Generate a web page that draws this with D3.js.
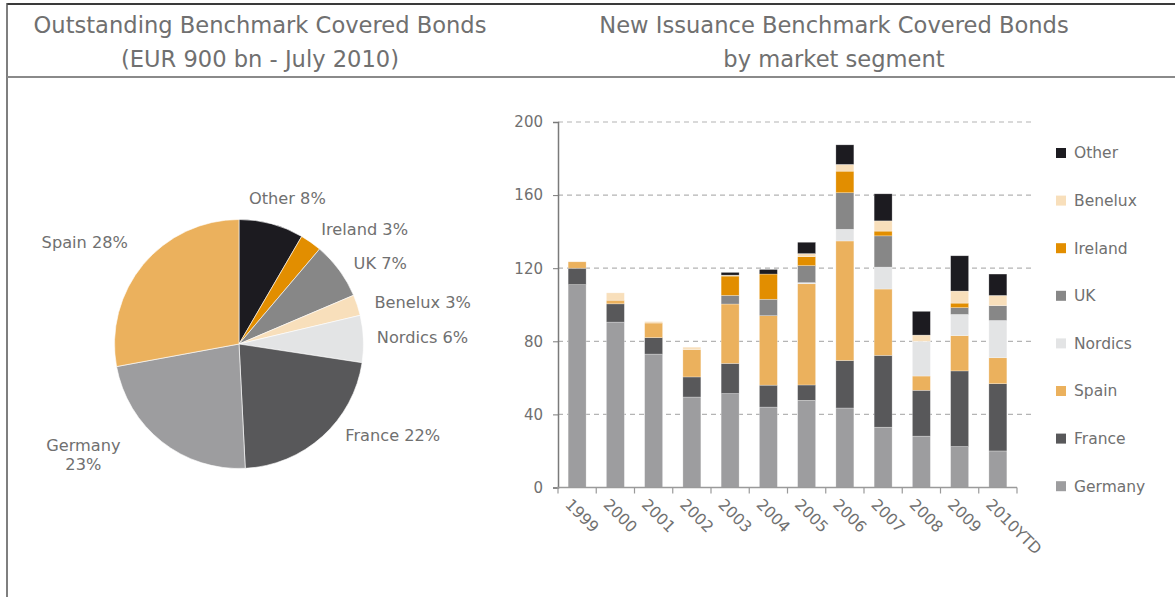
<!DOCTYPE html>
<html><head><meta charset="utf-8">
<script src="https://cdn.jsdelivr.net/npm/d3@7"></script>
<style>
html,body{margin:0;padding:0;background:#fff;}
svg{display:block;font-family:"DejaVu Sans",Verdana,sans-serif;}
</style></head>
<body>
<svg id="c" width="1175" height="597"></svg>
<script>
// ---------- data ----------
const pieLabels = ["Other","Ireland","UK","Benelux","Nordics","France","Germany","Spain"];
const pieValues = [8.4, 2.8, 7.4, 2.7, 6.1, 21.8, 22.9, 27.9];

const years = ["1999","2000","2001","2002","2003","2004","2005","2006","2007","2008","2009","2010YTD"];
const seriesNames = ["Germany","France","Spain","Nordics","UK","Ireland","Benelux","Other"];
const germany = [111, 90.5, 73, 49.5, 51.4, 44, 47.7, 43.5, 33, 28.1, 22.4, 20];
const france  = [9, 10, 9, 11, 16.5, 12, 8.4, 26, 39.3, 25.1, 41.4, 36.8];
const spain   = [3.5, 2, 8, 15, 32.5, 38, 55.4, 65.4, 36.3, 7.8, 19.3, 14.2];
const nordics = [0, 0, 0, 0, 0, 0, 0.6, 6.4, 12, 19, 11.6, 20.4];
const uk      = [0, 0, 0, 0, 4.7, 9, 9.3, 20, 17.1, 0, 3.7, 8.1];
const ireland = [0, 0, 0, 0, 10.6, 13.8, 4.9, 11.8, 2.6, 0, 2.5, 0];
const benelux = [0, 4, 0.8, 1.3, 0.5, 0, 1.7, 3.7, 5.6, 3.4, 6.6, 5.6];
const other   = [0, 0, 0, 0, 1.5, 2.5, 6.2, 10.7, 14.8, 13, 19.3, 11.7];
const yTicks = [0, 40, 80, 120, 160, 200];

// ---------- styles ----------
const colors = {
  Other:"#1c1b20", Ireland:"#e28e00", UK:"#878787", Benelux:"#f8dfbb",
  Nordics:"#e3e4e5", Spain:"#ebb15d", France:"#58585a", Germany:"#9d9d9f"
};
const textColor = "#707070";

const svg = d3.select("#c");

// frame
svg.append("line").attr("x1",7).attr("x2",1175).attr("y1",4).attr("y2",4).attr("stroke","#3a3a3a").attr("stroke-width",2);
svg.append("line").attr("x1",7).attr("x2",7).attr("y1",3).attr("y2",597).attr("stroke","#555").attr("stroke-width",1.5);
svg.append("line").attr("x1",7).attr("x2",1175).attr("y1",77).attr("y2",77).attr("stroke","#8a8a8a").attr("stroke-width",2);

// titles
function title(x, lines){
  lines.forEach((t,i)=>{
    svg.append("text").attr("x",x).attr("y",33+i*34).attr("text-anchor","middle")
      .attr("font-size",22.6).attr("fill",textColor).text(t);
  });
}
title(260, ["Outstanding Benchmark Covered Bonds","(EUR 900 bn - July 2010)"]);
title(834, ["New Issuance Benchmark Covered Bonds","by market segment"]);

// ---------- pie ----------
const cx = 239, cy = 344, R = 124.5;
const pieData = d3.pie().sort(null).value(d=>d.v)(pieLabels.map((l,i)=>({l, v:pieValues[i]})));
const arc = d3.arc().innerRadius(0).outerRadius(R);
const gp = svg.append("g").attr("transform",`translate(${cx},${cy})`);
gp.selectAll("path").data(pieData).enter().append("path")
  .attr("d",arc).attr("fill",d=>colors[d.data.l]).attr("stroke","#fff").attr("stroke-width",0.6);

const labelArc = d3.arc().innerRadius(151).outerRadius(151);
const labelTweak = {
  Other:{dx:9,dy:0,a:"middle"}, Ireland:{dx:-5,dy:9,a:"start"}, UK:{dx:-7,dy:9,a:"start"},
  Benelux:{dx:-8,dy:5,a:"start"}, Nordics:{dx:-13,dy:-1,a:"start"}, France:{dx:5,dy:-21,a:"start"},
  Germany:{dx:-62,dy:-8,a:"middle"}, Spain:{dx:5,dy:-5,a:"end"}
};
pieData.forEach(d=>{
  const [px,py] = labelArc.centroid(d);
  const tw = labelTweak[d.data.l];
  const pct = Math.round(d.data.v) + "%";
  const t = gp.append("text").attr("x",px+tw.dx).attr("y",py+tw.dy)
    .attr("text-anchor",tw.a).attr("font-size",16.2).attr("fill",textColor);
  if (d.data.l === "Germany") {
    t.append("tspan").attr("x",px+tw.dx).attr("dy","-0.2em").text(d.data.l);
    t.append("tspan").attr("x",px+tw.dx).attr("dy","1.15em").text(pct);
  } else {
    t.attr("dy","0.35em").text(d.data.l + " " + pct);
  }
});

// ---------- stacked bars ----------
const table = years.map((y,i)=>({year:y, Germany:germany[i], France:france[i], Spain:spain[i],
  Nordics:nordics[i], UK:uk[i], Ireland:ireland[i], Benelux:benelux[i], Other:other[i]}));
const stack = d3.stack().keys(seriesNames)(table);

const x = d3.scaleBand().domain(years).range([558, 1017]).paddingInner(0.53).paddingOuter(0.265);
const y = d3.scaleLinear().domain([0,200]).range([487.5, 122]);

// gridlines
svg.append("g").selectAll("line").data(yTicks.filter(d=>d>0)).enter().append("line")
  .attr("x1",558).attr("x2",1035).attr("y1",d=>y(d)).attr("y2",d=>y(d))
  .attr("stroke","#b4b4b4").attr("stroke-width",1.2).attr("stroke-dasharray","5,4");

const gb = svg.append("g");
stack.forEach(s=>{
  gb.selectAll(null).data(s).enter().append("rect")
    .attr("x",d=>x(d.data.year)).attr("width",x.bandwidth())
    .attr("y",d=>y(d[1])).attr("height",d=>Math.max(0,y(d[0])-y(d[1])))
    .attr("fill",colors[s.key]).attr("stroke","#fff").attr("stroke-opacity",0.45).attr("stroke-width",0.6);
});

// y axis
const yAxis = d3.axisLeft(y).tickValues(yTicks).tickSize(5).tickPadding(10);
const gy = svg.append("g").attr("transform","translate(558,0)").call(yAxis);
gy.select(".domain").attr("stroke","#7a7a7a").attr("stroke-width",1.5);
gy.selectAll(".tick line").attr("stroke","#7a7a7a");
gy.selectAll(".tick text").attr("font-size",15).attr("fill",textColor).attr("font-family","DejaVu Sans");

// x axis
const step = x.step();
svg.append("line").attr("x1",557).attr("x2",1017).attr("y1",y(0)).attr("y2",y(0)).attr("stroke","#9a9a9a").attr("stroke-width",1.5);
const bounds = years.map(d=>x(d) - step*x.paddingInner()/2).concat([x(years[years.length-1]) + x.bandwidth() + step*x.paddingInner()/2]);
svg.append("g").selectAll("line").data(bounds).enter().append("line")
  .attr("x1",d=>d).attr("x2",d=>d).attr("y1",y(0)).attr("y2",y(0)+6).attr("stroke","#9a9a9a").attr("stroke-width",1.2);
svg.append("g").selectAll("text").data(years).enter().append("text")
  .attr("transform",d=>`translate(${x(d)+x.bandwidth()/2-13},${y(0)+18}) rotate(45)`)
  .attr("font-size",15.6).attr("fill",textColor).text(d=>d);

// legend
const legendOrder = seriesNames.slice().reverse();
const lg = svg.append("g");
legendOrder.forEach((k,i)=>{
  const ly = 153 + i*47.6;
  lg.append("rect").attr("x",1056).attr("y",ly-5).attr("width",10).attr("height",10).attr("fill",colors[k]);
  lg.append("text").attr("x",1074).attr("y",ly).attr("dy","0.35em").attr("font-size",15.5).attr("fill",textColor).text(k);
});
</script>
</body></html>
